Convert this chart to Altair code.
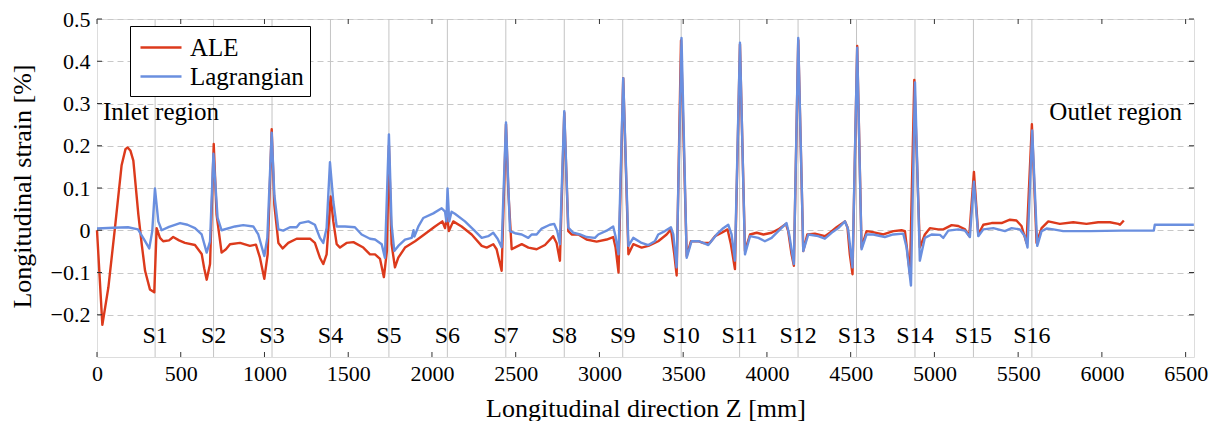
import altair as alt
import pandas as pd

# ---------------- data ----------------
ale_z = [0, 32, 68, 107, 147, 170, 183, 200, 217, 247, 267, 287, 316, 342, 356, 376, 395, 430, 455, 490,
         525, 585, 625, 640, 655, 675, 697, 714, 744, 770, 794, 854, 913, 949, 973, 999, 1019, 1043, 1059, 1083,
         1109, 1142, 1192, 1272, 1301, 1331, 1351, 1371, 1395, 1411, 1431, 1451, 1490, 1531, 1590, 1630, 1660, 1690, 1713, 1731,
         1743, 1759, 1779, 1799, 1839, 1899, 1958, 2018, 2062, 2078, 2090, 2101, 2127, 2177, 2237, 2297, 2327, 2366, 2386, 2416,
         2442, 2456, 2476, 2500, 2536, 2576, 2625, 2675, 2724, 2744, 2764, 2790, 2814, 2834, 2874, 2923, 2983, 3043, 3082, 3096,
         3114, 3142, 3173, 3202, 3252, 3292, 3351, 3401, 3427, 3447, 3461, 3487, 3521, 3546, 3590, 3618, 3658, 3690, 3730, 3765,
         3785, 3809, 3839, 3869, 3899, 3939, 3979, 4028, 4068, 4113, 4127, 4147, 4161, 4187, 4217, 4241, 4286, 4346, 4376, 4416,
         4466, 4481, 4495, 4511, 4539, 4565, 4595, 4625, 4695, 4755, 4804, 4824, 4854, 4880, 4913, 4943, 4973, 5023, 5053, 5103,
         5143, 5183, 5208, 5236, 5262, 5292, 5342, 5401, 5451, 5490, 5520, 5550, 5582, 5610, 5640, 5680, 5749, 5829, 5908, 5978,
         6048, 6098, 6108, 6131]
ale_strain = [0.0, -0.224, -0.135, 0.005, 0.154, 0.192, 0.196, 0.188, 0.165, 0.037, -0.033, -0.096, -0.14, -0.147, 0.005, -0.018, -0.026, -0.024, -0.016, -0.024,
              -0.03, -0.035, -0.056, -0.09, -0.117, -0.08, 0.204, 0.037, -0.053, -0.045, -0.033, -0.03, -0.037, -0.034, -0.065, -0.115, -0.057, 0.239, 0.06, -0.03,
              -0.043, -0.03, -0.02, -0.02, -0.03, -0.065, -0.08, -0.057, 0.08, 0.021, -0.033, -0.041, -0.03, -0.028, -0.041, -0.057, -0.057, -0.068, -0.111, -0.049,
              0.2, -0.033, -0.088, -0.065, -0.041, -0.026, -0.009, 0.009, 0.021, 0.005, 0.035, -0.002, 0.021, 0.009, -0.01, -0.037, -0.041, -0.033, -0.045, -0.096,
              0.251, 0.091, -0.045, -0.04, -0.033, -0.041, -0.045, -0.035, -0.014, -0.03, -0.072, 0.278, -0.002, -0.01, -0.01, -0.022, -0.027, -0.022, -0.016, -0.04,
              -0.1, 0.36, -0.057, -0.033, -0.041, -0.037, -0.026, -0.01, 0.002, -0.057, -0.107, 0.449, -0.061, -0.026, -0.026, -0.03, -0.03, -0.014, -0.006, 0.002,
              -0.033, -0.092, 0.44, -0.049, -0.01, -0.006, -0.01, -0.006, 0.002, 0.015, -0.002, -0.057, -0.084, 0.45, -0.049, -0.01, -0.008, -0.014, -0.006, 0.007,
              0.021, 0.007, -0.057, -0.104, 0.436, -0.041, -0.002, -0.004, -0.01, -0.002, 0.0, -0.002, -0.104, 0.356, -0.041, -0.01, 0.005, 0.002, 0.002, 0.012,
              0.01, 0.002, -0.014, 0.138, -0.01, 0.013, 0.017, 0.017, 0.025, 0.023, 0.01, -0.03, 0.251, -0.03, 0.005, 0.021, 0.015, 0.019, 0.015, 0.019,
              0.019, 0.015, 0.013, 0.023]

lag_z = [0, 100, 185, 245, 287, 312, 330, 346, 366, 386, 430, 496, 540, 585, 625, 655, 675, 695, 720, 744,
         824, 873, 933, 963, 999, 1017, 1043, 1059, 1083, 1112, 1152, 1192, 1212, 1262, 1301, 1331, 1351, 1371, 1391, 1411,
         1431, 1481, 1540, 1580, 1630, 1660, 1700, 1719, 1743, 1759, 1775, 1799, 1839, 1879, 1890, 1895, 1920, 1948, 2008, 2058,
         2078, 2086, 2093, 2103, 2117, 2137, 2197, 2257, 2297, 2336, 2366, 2392, 2416, 2442, 2466, 2496, 2536, 2575, 2595, 2625,
         2655, 2704, 2730, 2748, 2764, 2790, 2814, 2844, 2884, 2923, 2973, 2993, 3043, 3082, 3096, 3114, 3142, 3173, 3202, 3252,
         3292, 3331, 3351, 3391, 3427, 3441, 3461, 3490, 3521, 3550, 3590, 3620, 3650, 3700, 3739, 3769, 3789, 3809, 3839, 3869,
         3899, 3949, 3988, 4028, 4068, 4117, 4133, 4161, 4187, 4217, 4247, 4306, 4346, 4386, 4426, 4466, 4485, 4511, 4539, 4565,
         4595, 4635, 4704, 4754, 4814, 4834, 4860, 4884, 4913, 4943, 4983, 5033, 5053, 5083, 5143, 5183, 5212, 5236, 5262, 5292,
         5352, 5421, 5461, 5510, 5540, 5556, 5584, 5614, 5640, 5670, 5710, 5769, 5928, 6117, 6310, 6316, 6549]
lag_strain = [0.004, 0.006, 0.007, 0.002, -0.026, -0.043, -0.002, 0.099, 0.021, 0.0, 0.008, 0.017, 0.013, 0.005, -0.01, -0.053, -0.026, 0.181, 0.029, 0.0,
              0.009, 0.012, 0.009, -0.01, -0.061, -0.018, 0.231, 0.083, 0.002, -0.001, 0.007, 0.007, 0.017, 0.021, 0.013, -0.018, -0.03, 0.005, 0.161, 0.068,
              0.009, 0.009, 0.007, -0.01, -0.02, -0.022, -0.033, -0.065, 0.227, 0.013, -0.049, -0.037, -0.022, -0.018, 0.0, -0.015, 0.01, 0.029, 0.04, 0.052,
              0.044, 0.021, 0.099, 0.021, 0.044, 0.039, 0.021, -0.002, -0.018, -0.014, -0.006, -0.02, -0.04, 0.255, -0.002, -0.007, -0.01, -0.018, -0.01, -0.01,
              0.004, 0.013, 0.015, -0.002, -0.033, 0.282, 0.006, -0.006, -0.01, -0.016, -0.018, -0.01, -0.001, 0.009, -0.014, -0.057, 0.36, -0.037, -0.018, -0.03,
              -0.035, -0.026, -0.01, -0.002, 0.007, -0.01, -0.088, 0.455, -0.065, -0.026, -0.026, -0.03, -0.035, -0.01, 0.005, 0.013, -0.01, -0.072, 0.444, -0.057,
              -0.014, -0.018, -0.026, -0.018, -0.002, 0.017, -0.01, -0.08, 0.455, -0.049, -0.01, -0.014, -0.02, -0.006, 0.005, 0.021, 0.002, -0.088, 0.432, -0.045,
              -0.01, -0.01, -0.016, -0.01, -0.008, -0.041, -0.131, 0.35, -0.072, -0.018, -0.01, -0.011, -0.018, -0.001, 0.002, -0.001, -0.016, 0.115, -0.014, 0.002,
              0.005, -0.002, 0.005, 0.002, -0.014, -0.041, 0.236, -0.037, -0.002, 0.004, 0.002, -0.002, -0.002, -0.001, -0.001, 0.013, 0.013]

series_names = ["ALE", "Lagrangian"]
series_colors = ["#DC3A1C", "#6A8FDF"]

station_z = [347, 696, 1045, 1394, 1743, 2092, 2441, 2790, 3139, 3488, 3837, 4186, 4535, 4884, 5233, 5582]
station_labels = ["S%d" % (i + 1) for i in range(16)]
station_label_y = -0.25

region_text = ["Inlet region", "Outlet region"]
region_z = [36, 6478]
region_y = 0.28

x_ticks = list(range(0, 6501, 500))
y_ticks = [-0.2, -0.1, 0.0, 0.1, 0.2, 0.3, 0.4, 0.5]
x_domain = [0, 6550]
y_domain = [-0.3, 0.5]

# ---------------- build ----------------
W, H = 1097, 338
FONT = "Liberation Serif"

rows = []
for i, (z, s) in enumerate(zip(ale_z, ale_strain)):
    rows.append({"z": z, "v": s, "series": "ALE", "idx": i})
for i, (z, s) in enumerate(zip(lag_z, lag_strain)):
    rows.append({"z": z, "v": s, "series": "Lagrangian", "idx": i})
df = pd.DataFrame(rows)

xs = alt.Scale(domain=x_domain, nice=False, zero=False)
ys = alt.Scale(domain=y_domain, nice=False, zero=False)

x_axis = alt.Axis(values=x_ticks, ticks=False, domain=False, grid=False, format="d",
                  labelFont=FONT, labelFontSize=22, labelColor="black", labelPadding=6,
                  labelFlush=False,
                  title="Longitudinal direction Z [mm]", titleFont=FONT, titleFontSize=26,
                  titleFontWeight="normal", titleColor="black",
                  titleBaseline="middle", titleY=51)
y_axis = alt.Axis(values=y_ticks, ticks=False, domain=False, grid=True,
                  gridDash=[6, 4], gridColor="#c8c8c8", gridWidth=1,
                  labelFont=FONT, labelFontSize=22, labelColor="black", labelPadding=7,
                  labelExpr="datum.value == 0 ? '0' : replace(format(datum.value, '.1f'), '-', '\u2212')",
                  title="Longitudinal strain [%]", titleFont=FONT, titleFontSize=26,
                  titleFontWeight="normal", titleColor="black",
                  titleX=-75, titleY=H / 2 - 2, titleAlign="center", titleBaseline="middle", titleAngle=-90)


def X(f):
    return alt.X(f, scale=xs, axis=x_axis)


def Y(f):
    return alt.Y(f, scale=ys, axis=y_axis)


st_df = pd.DataFrame({"z": station_z, "label": station_labels, "v": [station_label_y] * 16})

stations = alt.Chart(st_df).mark_rule(color="#c4c4c4", strokeWidth=1).encode(x=X("z:Q"))

lines = alt.Chart(df).mark_line(strokeWidth=2.4, strokeJoin="round").encode(
    x=X("z:Q"),
    y=Y("v:Q"),
    color=alt.Color("series:N",
                    scale=alt.Scale(domain=series_names, range=series_colors),
                    legend=alt.Legend(title=None, orient="none", legendX=33, legendY=7,
                                      fillColor="white", strokeColor="black", padding=6,
                                      symbolType="M-0.786,0H2.143", symbolSize=784, symbolStrokeWidth=2.4,
                                      labelFont=FONT, labelFontSize=25, labelColor="black",
                                      labelOffset=23, rowPadding=0, cornerRadius=0)),
    order="idx:Q",
)

st_text = alt.Chart(st_df).mark_text(font=FONT, fontSize=24, color="black",
                                     baseline="middle", align="center").encode(
    x=X("z:Q"), y=Y("v:Q"), text="label:N")

reg_df = pd.DataFrame({"z": region_z, "v": [region_y, region_y], "t": region_text})
inlet = alt.Chart(reg_df.iloc[[0]]).mark_text(font=FONT, fontSize=25, color="black",
                                              baseline="middle", align="left").encode(
    x=X("z:Q"), y=Y("v:Q"), text="t:N")
outlet = alt.Chart(reg_df.iloc[[1]]).mark_text(font=FONT, fontSize=25, color="black",
                                               baseline="middle", align="right").encode(
    x=X("z:Q"), y=Y("v:Q"), text="t:N")

# inward tick marks (pgfplots style)
xt_df = pd.DataFrame({"z": x_ticks})
yt_df = pd.DataFrame({"v": y_ticks})
tk = dict(color="#333333", strokeWidth=1)
xt_bot = alt.Chart(xt_df).mark_rule(**tk).encode(x=X("z:Q"), y=alt.value(H), y2=alt.value(H - 5))
xt_top = alt.Chart(xt_df).mark_rule(**tk).encode(x=X("z:Q"), y=alt.value(0), y2=alt.value(5))
yt_l = alt.Chart(yt_df).mark_rule(**tk).encode(y=Y("v:Q"), x=alt.value(0), x2=alt.value(5))
yt_r = alt.Chart(yt_df).mark_rule(**tk).encode(y=Y("v:Q"), x=alt.value(W), x2=alt.value(W - 5))

chart = alt.layer(stations, lines, st_text, inlet, outlet, xt_bot, xt_top, yt_l, yt_r).properties(
    width=W, height=H,
    autosize=alt.AutoSizeParams(type="none"),
    padding={"left": 89, "top": 11, "right": 17, "bottom": 64},
).configure_view(stroke="#333333", strokeWidth=1.2).configure(background="white")

chart.save("out.html", embed_options={"renderer": "svg", "actions": False})
